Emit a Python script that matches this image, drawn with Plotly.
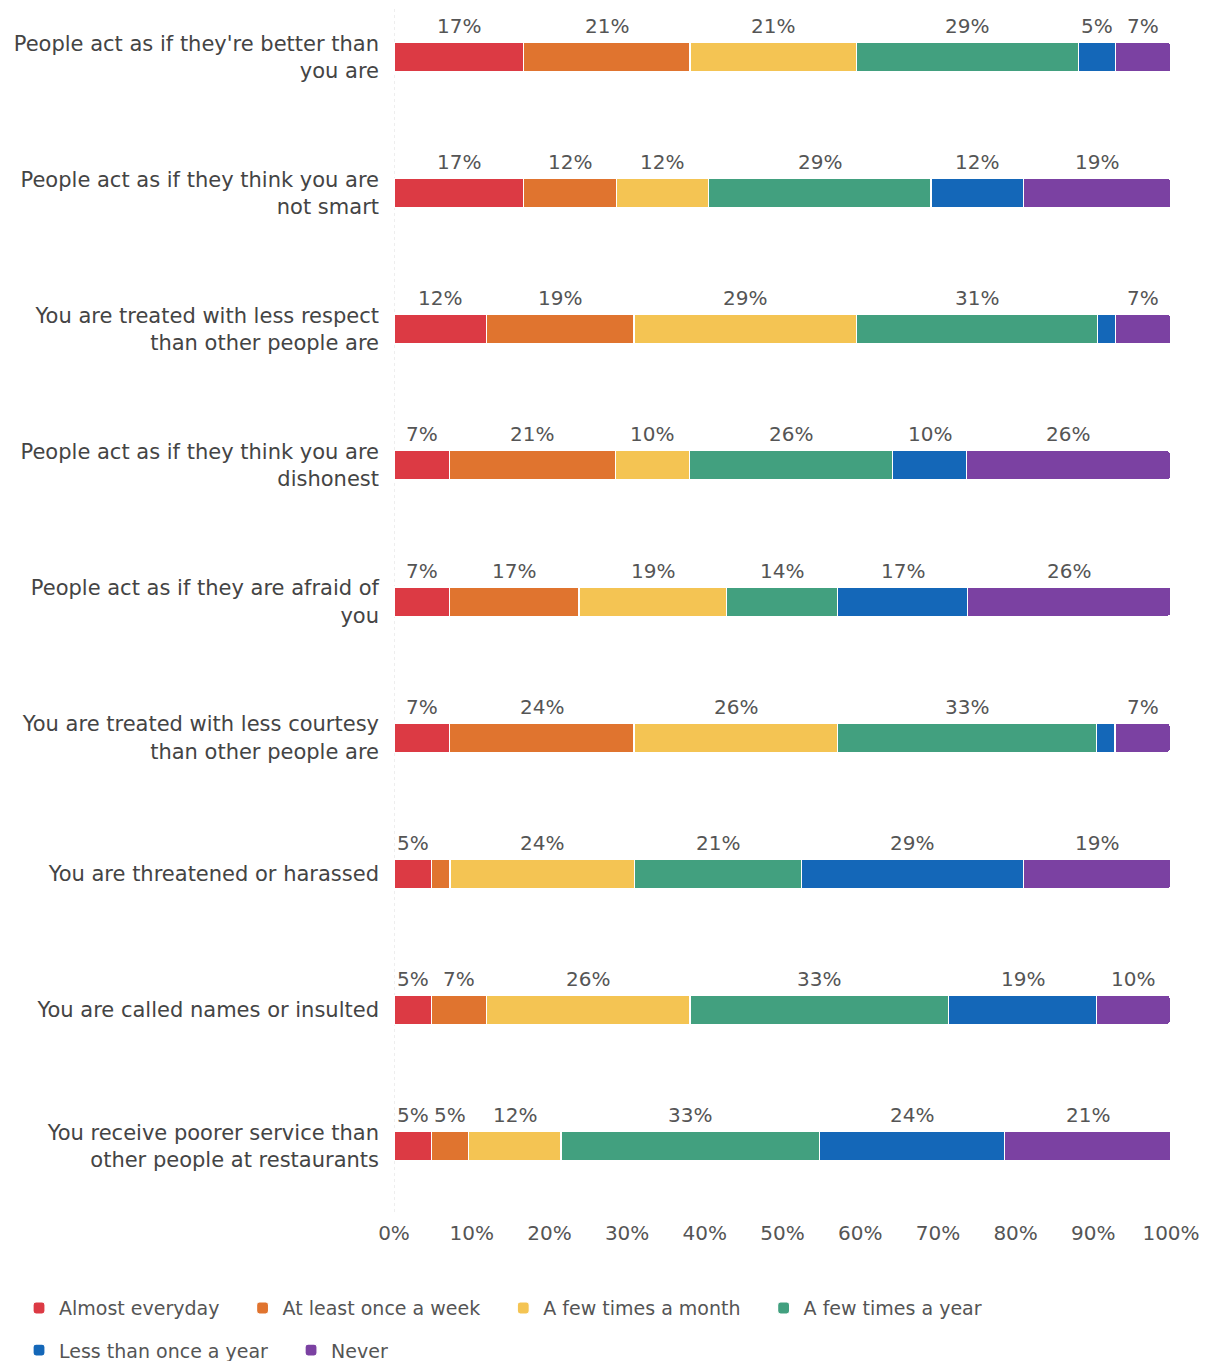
import plotly.graph_objects as go

categories = [
    "People act as if they're better than<br>you are",
    "People act as if they think you are<br>not smart",
    "You are treated with less respect<br>than other people are",
    "People act as if they think you are<br>dishonest",
    "People act as if they are afraid of<br>you",
    "You are treated with less courtesy<br>than other people are",
    "You are threatened or harassed",
    "You are called names or insulted",
    "You receive poorer service than<br>other people at restaurants",
]

series_names = [
    "Almost everyday",
    "At least once a week",
    "A few times a month",
    "A few times a year",
    "Less than once a year",
    "Never",
]

almost_everyday = [16.7, 16.7, 11.9, 7.1, 7.1, 7.1, 4.8, 4.8, 4.8]
at_least_weekly = [21.4, 11.9, 19.0, 21.4, 16.7, 23.8, 2.4, 7.1, 4.8]
few_times_month = [21.4, 11.9, 28.6, 9.5, 19.0, 26.2, 23.8, 26.2, 11.9]
few_times_year = [28.6, 28.6, 31.0, 26.2, 14.3, 33.3, 21.4, 33.3, 33.3]
less_than_yearly = [4.8, 11.9, 2.4, 9.5, 16.7, 2.4, 28.6, 19.0, 23.8]
never = [7.1, 19.0, 7.1, 26.2, 26.2, 7.1, 19.0, 9.5, 21.4]

series_values = [almost_everyday, at_least_weekly, few_times_month,
                 few_times_year, less_than_yearly, never]

colors = ["#dc3a44", "#e0742f", "#f4c453", "#42a07f", "#1467b8", "#7b41a2"]

tick_vals = [0, 10, 20, 30, 40, 50, 60, 70, 80, 90, 100]
tick_text = ["0%", "10%", "20%", "30%", "40%", "50%", "60%", "70%", "80%", "90%", "100%"]

FONT = "DejaVu Sans"
PAD = "\u00a0\u00a0\u00a0"  # extra spacing after legend entries

fig = go.Figure()
for i, (name, vals) in enumerate(zip(series_names, series_values)):
    fig.add_trace(go.Bar(
        y=categories, x=vals, name=name + PAD, orientation="h",
        marker=dict(color=colors[i], line=dict(color="white", width=1.2)),
        width=0.215,
        legend="legend" if i < 4 else "legend2",
        hoverinfo="skip",
    ))

# value labels above each segment
annotations = []
for ci, cat in enumerate(categories):
    start = 0.0
    for vals in series_values:
        v = vals[ci]
        if v >= 4:
            annotations.append(dict(
                x=start + v / 2, y=cat, xref="x", yref="y",
                text=f"{round(v)}%", showarrow=False, yshift=31,
                font=dict(family=FONT, size=20, color="#555555"),
            ))
        start += v

fig.update_layout(
    width=1202, height=1353,
    barmode="stack",
    barcornerradius=3,
    paper_bgcolor="white", plot_bgcolor="white",
    margin=dict(l=386, r=39, t=2, b=149, autoexpand=False),
    font=dict(family=FONT, size=20, color="#555555"),
    annotations=annotations,
    xaxis=dict(
        range=[0, 100], tickvals=tick_vals, ticktext=tick_text,
        showgrid=False, zeroline=False, showline=False,
        tickfont=dict(family=FONT, size=20, color="#555555"),
        ticklabelstandoff=7, automargin=False,
        fixedrange=True,
    ),
    yaxis=dict(
        type="category", categoryorder="array", categoryarray=categories,
        range=[8.485, -0.346],
        showgrid=False, zeroline=False, showline=False,
        ticks="", ticklabelstandoff=14, automargin=False,
        tickfont=dict(family=FONT, size=21, color="#444444"),
    ),
    shapes=[dict(type="line", xref="x", yref="paper", x0=0, x1=0, y0=0, y1=1.01,
                 line=dict(color="#dddddd", width=1, dash="dot"), layer="below")],
    legend=dict(
        orientation="h", x=-0.4826, xanchor="left", y=-0.08, yanchor="middle",
        font=dict(family=FONT, size=19, color="#555555"),
        traceorder="normal", itemclick=False, itemdoubleclick=False,
    ),
    legend2=dict(
        orientation="h", x=-0.4826, xanchor="left", y=-0.115, yanchor="middle",
        font=dict(family=FONT, size=19, color="#555555"),
        traceorder="normal", itemclick=False, itemdoubleclick=False,
    ),
    showlegend=True,
)

fig.write_html("out.html")
